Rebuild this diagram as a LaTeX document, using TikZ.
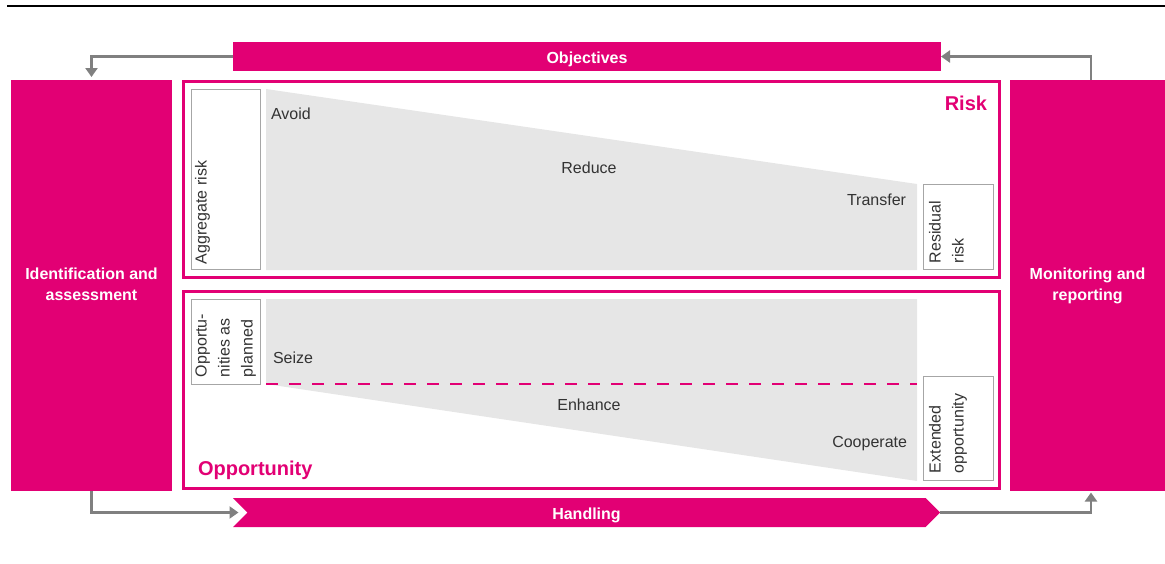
\documentclass[tikz,border=0pt]{standalone}
\usepackage{fontspec}
\setmainfont{Liberation Sans}
\usetikzlibrary{arrows.meta,shapes.symbols}
\definecolor{tmagenta}{HTML}{E20074}
\definecolor{arrowgray}{HTML}{808080}
\definecolor{fillgray}{HTML}{E6E6E6}
\definecolor{boxgray}{HTML}{A6A6A6}
\definecolor{textgray}{HTML}{333333}

\begin{document}
\begin{tikzpicture}[x=1pt,y=-1pt,
	every node/.style={font=\fontsize{16}{22}\selectfont,text=textgray,inner sep=0,outer sep=0},
	block/.style={fill=tmagenta,text=white,font=\fontsize{16}{21}\selectfont\bfseries,align=center,text height=13pt,text depth=0pt},
	sideblock/.style={block,text height=,text depth=3.6pt,minimum width=#1,minimum height=411},
	frame/.style={draw=tmagenta,line width=3pt},
	smallbox/.style={draw=boxgray,line width=1.5pt,fill=white},
	vtext/.style={rotate=90,anchor=north west,align=left,font=\fontsize{16}{23}\selectfont},
	heading/.style={text=tmagenta,font=\fontsize{20}{24}\selectfont\bfseries},
	flow/.style={draw=arrowgray,line width=2.7pt,-{Triangle[width=12pt,length=9pt]}}]
	\useasboundingbox (0,0) rectangle (1165,563);
	\draw[line width=2.7pt] (7,6) -- (1165,6);
	% side blocks and bars
	\node[sideblock=161] (ident) at (91.5,285.5) {Identification and\\assessment};
	\node[sideblock=155] (monitor) at (1087.5,285.5) {Monitoring and\\reporting};
	\node[block,minimum width=708,minimum height=29] (obj) at (587,56.5) {Objectives};
	\node[block,signal,signal to=east,signal from=west,minimum width=707,minimum height=29] (handling) at (586.5,512.5) {Handling};
	% frames
	\node[frame,minimum width=816,minimum height=196] (risk) at (591.5,179.5) {};
	\node[frame,minimum width=816,minimum height=197] (opp) at (591.5,390) {};
	\fill[fillgray] (266,89) -- (917,184) -- (917,270) -- (266,270) -- cycle;
	\fill[fillgray] (266,299) -- (917,299) -- (917,481) -- (266,384) -- cycle;
	\draw[tmagenta,line width=2pt,dash pattern=on 12pt off 11pt] (266,384) -- (917,384);
	% small boxes
	\node[smallbox,minimum width=69,minimum height=180] (aggr) at (226,179.5) {};
	\node[smallbox,minimum width=69,minimum height=85] (planned) at (226,342) {};
	\node[smallbox,minimum width=70,minimum height=85] (residual) at (958.5,227) {};
	\node[smallbox,minimum width=70,minimum height=104] (extended) at (958.5,428.5) {};
	\node[vtext] (aggrtext) at (195,264) {Aggregate risk};
	\node[vtext] (plannedtext) at (195.5,377) {Opportu-\\nities as\\planned};
	\node[vtext] (residualtext) at (929,263) {Residual\\risk};
	\node[vtext] (extendedtext) at (929,473) {Extended\\opportunity};
	% labels
	\node[anchor=base west] (avoid) at (271,119) {Avoid};
	\node[anchor=base] (reduce) at (589,173) {Reduce};
	\node[anchor=base east] (transfer) at (906,205) {Transfer};
	\node[anchor=base west] (seize) at (273,363) {Seize};
	\node[anchor=base] (enhance) at (589,410) {Enhance};
	\node[anchor=base east] (cooperate) at (907,447.5) {Cooperate};
	\node[heading,anchor=base east] (risklabel) at (987,110) {Risk};
	\node[heading,anchor=base west] (opplabel) at (198,475) {Opportunity};
	% arrows
	\draw[flow,shorten >=3pt] (obj.west) -| (ident.north);
	\draw[flow] ([xshift=3.5pt]monitor.north) |- (obj.east);
	\draw[flow,shorten >=9pt] (ident.south) |- (handling.west);
	\draw[flow,shorten >=1.5pt] (handling.east) -| ([xshift=3.5pt]monitor.south);
\end{tikzpicture}
\end{document}
